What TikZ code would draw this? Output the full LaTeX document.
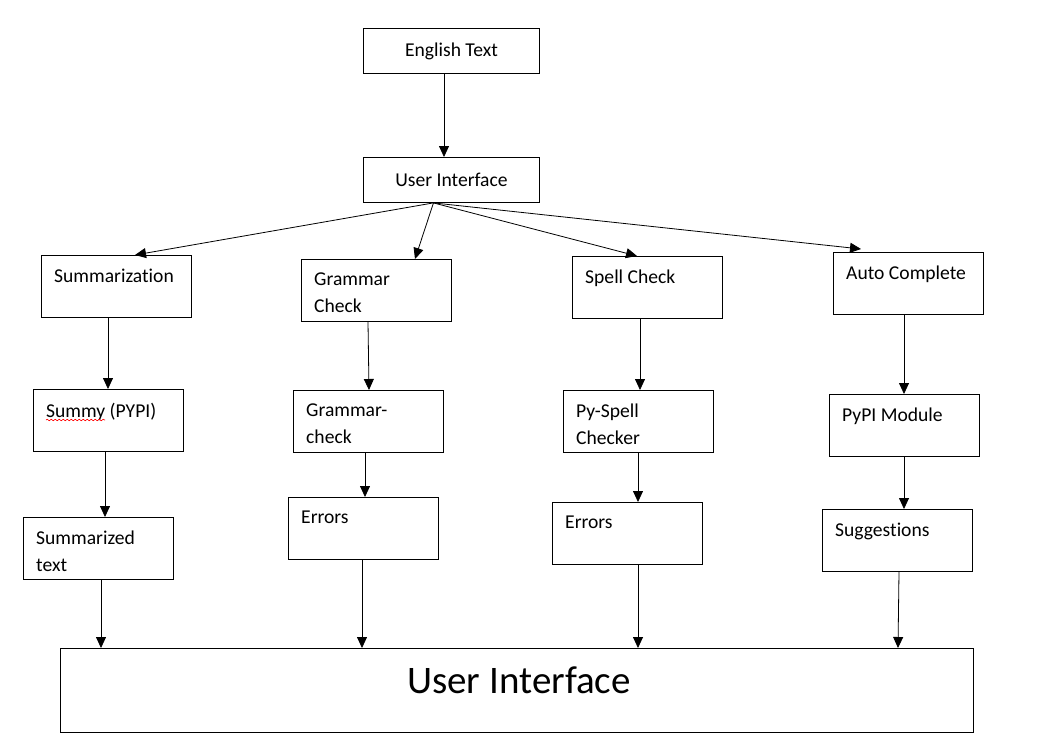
\documentclass[tikz,border=0pt]{standalone}
\usepackage{fontspec}
\setmainfont{Carlito}[Ligatures={NoCommon}]
\usepackage{tikz}
\usetikzlibrary{arrows.meta,decorations.pathmorphing}

\tikzset{
  box/.style={draw, line width=0.9pt, anchor=north west, inner sep=0,
    minimum width=150pt, minimum height=62pt, font=\fontsize{19.6}{27}\selectfont},
  txt/.style={anchor=north west, inner sep=0, xshift=13pt, yshift=-14pt,
    align=left, font=\fontsize{19.6}{27}\selectfont},
  arr/.style={line width=0.8pt, -{Triangle[width=10pt,length=11pt]}}
}

\begin{document}
\begin{tikzpicture}[x=1pt,y=-1pt]
                \useasboundingbox (0,0) rectangle (1052,744);

                % Input
                \node[box, minimum width=176pt, minimum height=45pt] (eng) at (363,28) {English Text};
                \node[box, minimum width=176pt, minimum height=45pt] (ui1) at (363,157) {User Interface};

                % Features
                \node[box, label={[txt]north west:Summarization}] (summ) at (41,255) {};
                \node[box, label={[txt]north west:Grammar\\Check}] (gc) at (301,259) {};
                \node[box, label={[txt]north west:Spell Check}] (sc) at (572,256) {};
                \node[box, label={[txt]north west:Auto Complete}] (ac) at (833,252) {};

                % Modules
                \node[box, label={[txt]north west:Summy (PYPI)}] (summy) at (33,389) {};
                \node[box, label={[txt]north west:Grammar-\\check}] (gcheck) at (293,390) {};
                \node[box, label={[txt]north west:Py-Spell\\Checker}] (psc) at (563,390) {};
                \node[box, label={[txt]north west:PyPI Module}] (pypi) at (829,394) {};

                % Results
                \node[box, label={[txt]north west:Summarized\\text}] (sumt) at (23,517) {};
                \node[box, label={[txt]north west:Errors}] (err1) at (288,497) {};
                \node[box, label={[txt]north west:Errors}] (err2) at (552,502) {};
                \node[box, label={[txt]north west:Suggestions}] (sugg) at (822,509) {};

                % Output
                \node[box, minimum width=913pt, minimum height=84pt,
                  label={[anchor=base, xshift=2pt, yshift=-45pt, font=\fontsize{39}{44}\selectfont]north:User Interface}] (ui2) at (60,648) {};

                % spell-check underline
                \draw[red, line width=0.6pt, decorate, decoration={snake, amplitude=0.8pt, segment length=4pt}]
                  ([xshift=13pt, yshift=-31pt]summy.north west) -- ([xshift=72pt, yshift=-31pt]summy.north west);

                \draw[arr] ([xshift=81pt]eng.south west) -- ([xshift=81pt]ui1.north west);

                % Fan out
                \draw[arr] ([xshift=-18pt]ui1.south) -- ([xshift=94pt]summ.north west);
                \draw[arr] ([xshift=-18pt]ui1.south) -- ([xshift=114pt]gc.north west);
                \draw[arr] ([xshift=-18pt]ui1.south) -- ([xshift=65pt]sc.north west);
                \draw[arr] ([xshift=-18pt]ui1.south) -- ([xshift=28pt, yshift=3pt]ac.north west);

                % Summarization
                \draw[arr] ([xshift=67pt]summ.south west) -- ([xshift=75pt]summy.north west);
                \draw[arr] ([xshift=72pt]summy.south west) -- ([xshift=82pt]sumt.north west);
                \draw[arr] ([xshift=78pt]sumt.south west) -- ([xshift=41pt]ui2.north west);

                % Grammar
                \draw[arr] ([xshift=67pt]gc.south west) -- ([xshift=76pt]gcheck.north west);
                \draw[arr] ([xshift=72pt]gcheck.south west) -- ([xshift=77pt]err1.north west);
                \draw[arr] ([xshift=74pt]err1.south west) -- ([xshift=302pt]ui2.north west);

                % Spelling
                \draw[arr] ([xshift=68pt]sc.south west) -- ([xshift=77pt]psc.north west);
                \draw[arr] ([xshift=75pt]psc.south west) -- ([xshift=86pt]err2.north west);
                \draw[arr] ([xshift=86pt]err2.south west) -- ([xshift=578pt]ui2.north west);

                % Completion
                \draw[arr] ([xshift=71pt]ac.south west) -- ([xshift=75pt]pypi.north west);
                \draw[arr] ([xshift=75pt]pypi.south west) -- ([xshift=82pt]sugg.north west);
                \draw[arr] ([xshift=77pt]sugg.south west) -- ([xshift=838pt]ui2.north west);
            \end{tikzpicture}
\end{document}
